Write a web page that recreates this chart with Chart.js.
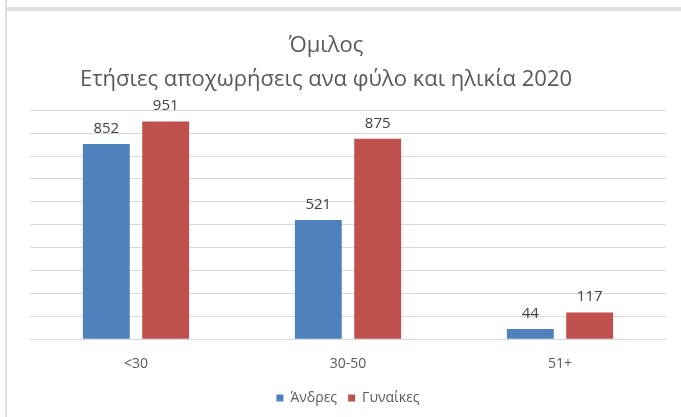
<!DOCTYPE html>
<html>
<head>
<meta charset="utf-8">
<script src="https://cdn.jsdelivr.net/npm/chart.js@4/dist/chart.umd.min.js"></script>
<style>
  html, body { margin: 0; padding: 0; background: #ffffff; overflow: hidden; }
  #wrap { position: relative; width: 681px; height: 417px; }
  #topbox { position: absolute; left: 5px; top: -10px; width: 700px; height: 15px; border: 2px solid #dedede; }
  #mainbox { position: absolute; left: 5px; top: 9px; width: 700px; height: 430px; border: 2px solid #dedede; }
  #c { position: absolute; left: 0; top: 0; }
</style>
</head>
<body>
<div id="wrap">
  <div id="topbox"></div>
  <div id="mainbox"></div>
  <canvas id="c" width="681" height="417"></canvas>
</div>
<script>
const titleLines = ['Όμιλος', 'Ετήσιες αποχωρήσεις ανα φύλο και ηλικία 2020'];
const categories = ['<30', '30-50', '51+'];
const seriesNames = ['Άνδρες', 'Γυναίκες'];
const men = [852, 521, 44];
const women = [951, 875, 117];
const yMax = 1000;
const yStep = 100;

const FONT = '"Open Sans", "Noto Sans", sans-serif';

const valueLabels = {
  id: 'valueLabels',
  afterDatasetsDraw(chart) {
    const ctx = chart.ctx;
    ctx.save();
    ctx.font = '15px ' + FONT;
    ctx.fillStyle = '#404040';
    ctx.textAlign = 'center';
    ctx.textBaseline = 'alphabetic';
    chart.data.datasets.forEach((ds, i) => {
      const meta = chart.getDatasetMeta(i);
      meta.data.forEach((el, j) => {
        ctx.fillText(String(ds.data[j]), el.x, el.y - 11);
      });
    });
    ctx.restore();
  }
};

const shiftTitle = {
  id: 'shiftTitle',
  afterLayout(chart) {
    const t = chart.titleBlock;
    if (t) { t.left -= 22; t.right -= 22; }
  }
};

new Chart(document.getElementById('c'), {
  type: 'bar',
  data: {
    labels: categories,
    datasets: [
      { label: seriesNames[0], data: men, backgroundColor: '#4F81BD', borderWidth: 0,
        categoryPercentage: 0.56, barPercentage: 0.79 },
      { label: seriesNames[1], data: women, backgroundColor: '#C0504D', borderWidth: 0,
        categoryPercentage: 0.56, barPercentage: 0.79 }
    ]
  },
  options: {
    responsive: false,
    animation: false,
    devicePixelRatio: 1,
    layout: { padding: { left: 30, right: 15, top: 29, bottom: 2 } },
    plugins: {
      title: {
        display: true,
        text: titleLines,
        color: '#595959',
        font: { family: FONT, size: 22, weight: 'normal', lineHeight: 1.55 },
        padding: { top: 0, bottom: 13 }
      },
      legend: {
        position: 'bottom',
        labels: {
          color: '#595959',
          font: { family: FONT, size: 14 },
          boxWidth: 7,
          boxHeight: 7,
          padding: 11
        }
      },
      tooltip: { enabled: false }
    },
    scales: {
      x: {
        grid: { display: false },
        border: { display: true, color: '#d9d9d9', width: 1 },
        ticks: { color: '#595959', font: { family: FONT, size: 14 }, padding: 8 }
      },
      y: {
        min: 0,
        max: yMax,
        ticks: { display: false, stepSize: yStep },
        grid: { color: '#d9d9d9', drawTicks: false, lineWidth: 1 },
        border: { display: false }
      }
    }
  },
  plugins: [valueLabels, shiftTitle]
});
</script>
</body>
</html>
